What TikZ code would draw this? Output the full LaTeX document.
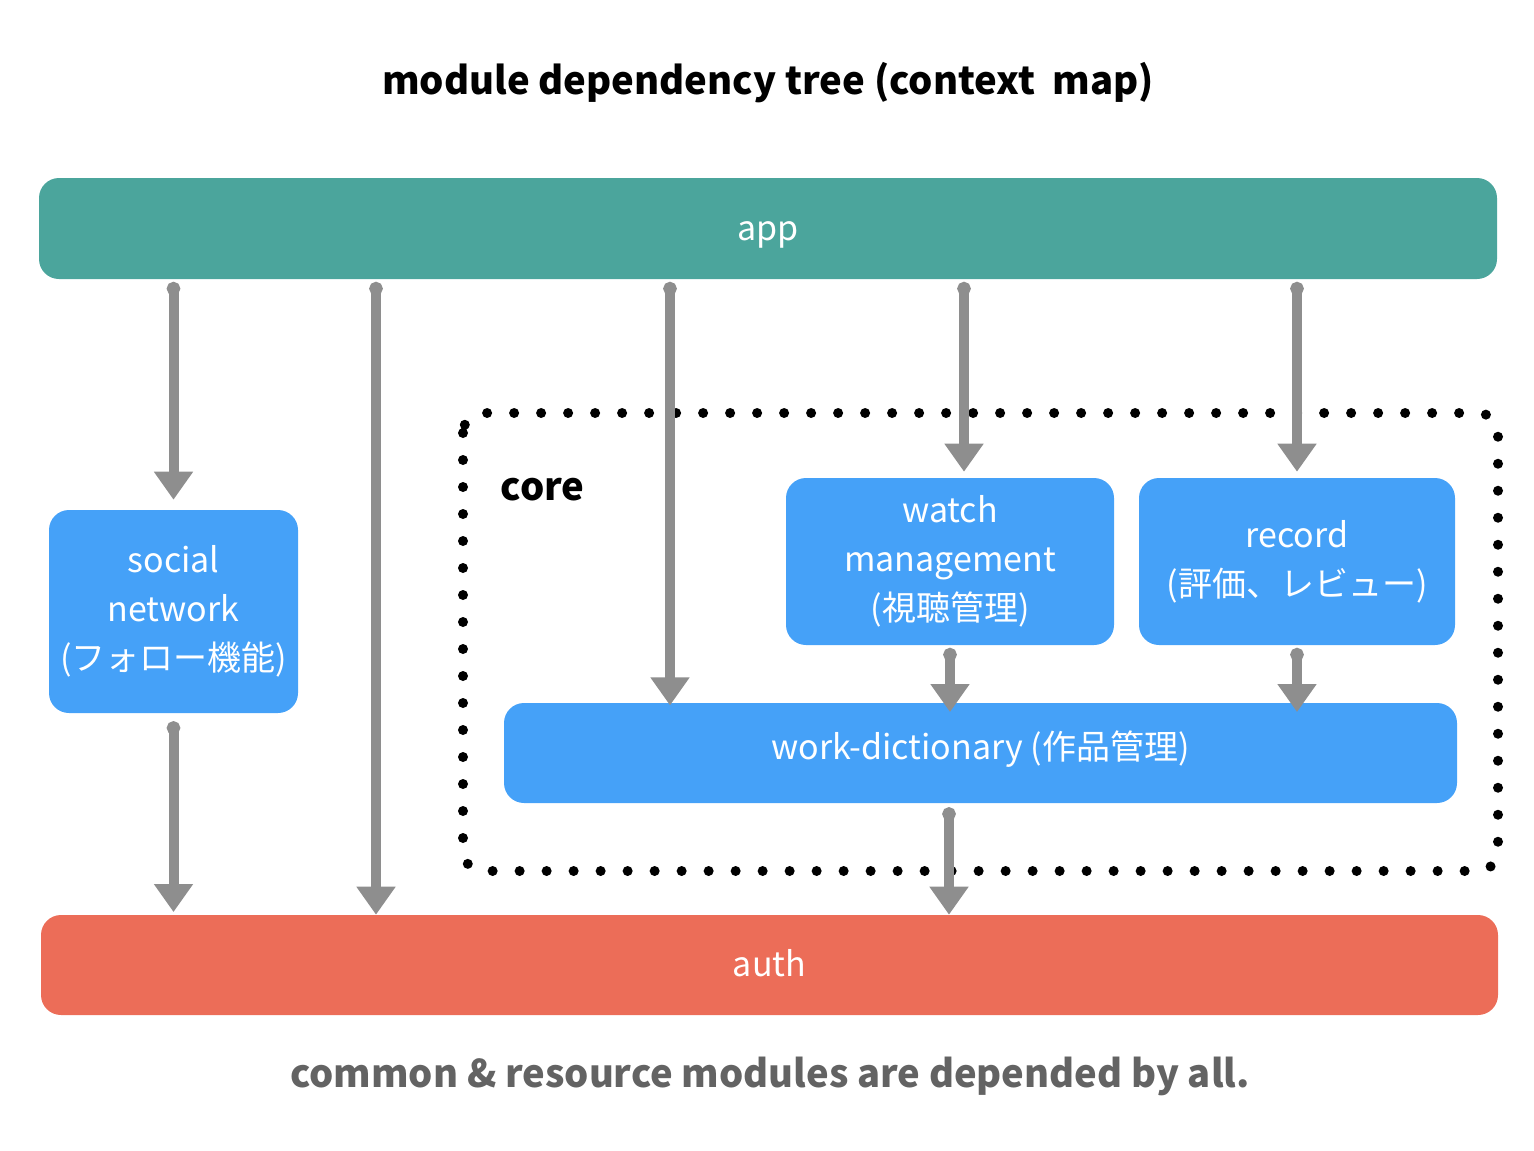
\documentclass[tikz,border=0pt]{standalone}
\usepackage{fontspec}
\setmainfont{Noto Sans CJK JP}
\usetikzlibrary{arrows.meta}

\definecolor{appgreen}{HTML}{4BA59C}
\definecolor{modblue}{HTML}{45A1F8}
\definecolor{authred}{HTML}{EC6D58}
\definecolor{arrowgray}{HTML}{8E8E8E}
\definecolor{notegray}{HTML}{636363}

\begin{document}
\begin{tikzpicture}[x=0.75pt,y=0.75pt,yscale=-1,
  module/.style={rounded corners=15pt, fill=modblue, text=white, align=center, inner sep=0pt,
    font=\fontsize{25.5}{36.75}\selectfont},
  bartext/.style={text=white, font=\fontsize{25.5}{36.75}\selectfont},
  dep/.style={draw=arrowgray, line width=7.5pt, line cap=round,
    {Circle[length=10pt]}-{Triangle[width=28pt,length=21pt]}},
  coredots/.style={line width=7.5pt, line cap=round, dash pattern=on 0pt off 20.25pt, rounded corners=15pt}]
\useasboundingbox (0,0) rectangle (1534,1150);

% Title
\node[font=\fontsize{28.7}{28.7}\selectfont\bfseries] (title) at (768,83) {module dependency tree (context\ \ map)};

% Shape: app / auth bars
\node[module, fill=appgreen, minimum width=1093.5pt, minimum height=75.75pt,
  label={[bartext, yshift=-4.5pt]center:app}] (app) at (768,228.5) {};
\node[module, fill=authred, minimum width=1092.75pt, minimum height=75pt,
  label={[bartext, yshift=1.5pt]center:auth}] (auth) at (769.5,965) {};

% Shape: core frame
\draw[coredots] (463,413) rectangle (1498,871);
\node[anchor=west, font=\fontsize{28.7}{28.7}\selectfont\bfseries] (core) at (496,490) {core};

% Shape: modules
\node[module, minimum width=186.75pt, minimum height=152.25pt] (social) at (173.5,611.5) {social\\network\\(フォロー機能)};
\node[module, minimum width=246pt, minimum height=125.25pt] (watch) at (950,561.5) {watch\\management\\(視聴管理)};
\node[module, minimum width=237pt, minimum height=125.25pt] (record) at (1297,561.5) {record\\(評価、レビュー)};
\node[module, minimum width=714.75pt, minimum height=75pt,
  label={[bartext, yshift=3pt]center:work-dictionary (作品管理)}] (work) at (980.5,753) {};

% Arrows
\draw[dep, shorten <=2pt, shorten >=7.5pt] (social.north |- app.south) -- (social.north);
\draw[dep, shorten <=2pt] (376,0 |- app.south) -- (376,0 |- auth.north);
\draw[dep, shorten <=2pt, shorten >=-2pt] (670,0 |- app.south) -- (670,0 |- work.north);
\draw[dep, shorten <=2pt, shorten >=4.5pt] (964,0 |- app.south) -- (964,0 |- watch.north);
\draw[dep, shorten <=2pt, shorten >=4.5pt] (record.north |- app.south) -- (record.north);
\draw[dep, shorten <=6pt, shorten >=2pt] (social.south) -- (social.south |- auth.north);
\draw[dep, shorten <=2pt, shorten >=-7pt] (watch.south) -- (watch.south |- work.north);
\draw[dep, shorten <=2pt, shorten >=-7pt] (record.south) -- (record.south |- work.north);
\draw[dep, shorten <=3pt] (949,0 |- work.south) -- (949,0 |- auth.north);

% Text Node
\node[text=notegray, font=\fontsize{28.6}{28.6}\selectfont\bfseries] (note) at (770,1076) {common \& resource modules are depended by all.};

\end{tikzpicture}
\end{document}
